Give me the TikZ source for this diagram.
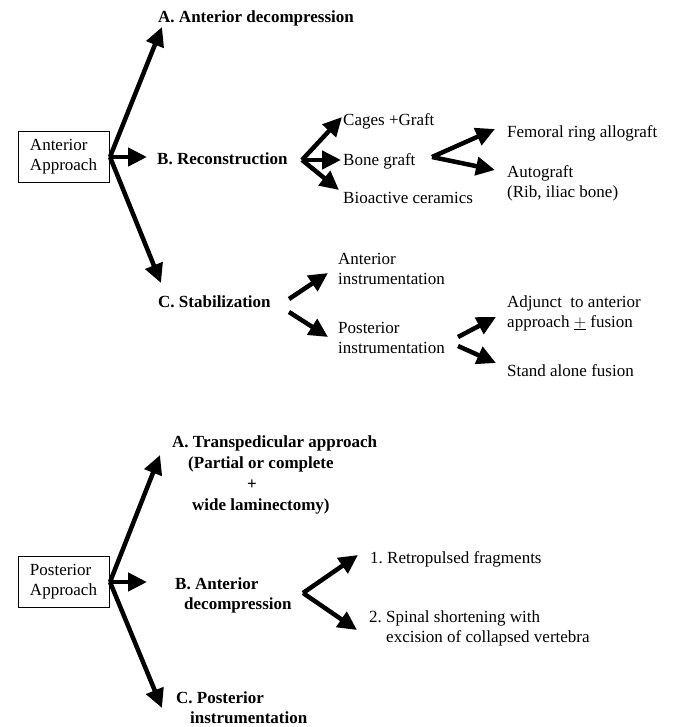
\documentclass[tikz,border=0pt]{standalone}
\usepackage{fontspec}
\setmainfont{Liberation Serif}
\usetikzlibrary{arrows.meta}
\begin{document}
\begin{tikzpicture}[x=1pt,y=-1pt,
  every node/.style={font=\fontsize{17}{20}\selectfont\frenchspacing, inner sep=0pt},
  lbl/.style={anchor=base west, align=left},
  blbl/.style={anchor=base west, align=left, font=\fontsize{17}{20}\selectfont\bfseries\frenchspacing},
  box/.style={draw, line width=0.8pt, minimum width=91pt, minimum height=51pt, align=left},
  arr/.style={line width=4.5pt, -{Triangle[length=19pt,width=18pt]}}]
\useasboundingbox (0,0) rectangle (672,727);

% ---------- Anterior approach ----------
\node[box] (antbox) at (63.5,156.5) {Anterior\\Approach};
\node[blbl] (antA) at (158,23) {A. Anterior decompression};
\node[blbl] (antB) at (157,165) {B. Reconstruction};
\node[blbl] (antC) at (158,307) {C. Stabilization};

\coordinate (o1) at (110,157);
\coordinate (tA) at (162,27);
\coordinate (tB) at (147,157);
\coordinate (tC) at (161,283);
\draw[arr] (o1) -- (tA);
\draw[arr] (o1) -- (tB);
\draw[arr] (o1) -- (tC);

\node[lbl] (cages) at (343,126) {Cages +Graft};
\node[lbl] (bone) at (343,166) {Bone graft};
\node[lbl] (bioact) at (343,204) {Bioactive ceramics};
\coordinate (o2) at (302,160);
\coordinate (t21) at (342,117);
\coordinate (t22) at (341,160);
\coordinate (t23) at (339,190);
\draw[arr] (o2) -- (t21);
\draw[arr] (o2) -- (t22);
\draw[arr] (o2) -- (t23);

\node[lbl] (femoral) at (507,138) {Femoral ring allograft};
\node[lbl] (auto) at (507,198) {Autograft\\(Rib, iliac bone)};
\coordinate (o3) at (432,157);
\coordinate (t31) at (495,129);
\coordinate (t32) at (495,170);
\draw[arr] (o3) -- (t31);
\draw[arr] (o3) -- (t32);

\node[lbl] (antinst) at (338,284) {Anterior\\instrumentation};
\node[lbl] (postinst) at (338,353) {Posterior\\instrumentation};
\coordinate (s1) at (289,299);
\coordinate (ts1) at (328,273);
\coordinate (s2) at (289,312);
\coordinate (ts2) at (328,337);
\draw[arr] (s1) -- (ts1);
\draw[arr] (s2) -- (ts2);

\node[lbl] (adjunct) at (507,327) {Adjunct\ \ to anterior\\approach $\underline{+}$ fusion};
\node[lbl] (stand) at (507,376) {Stand alone fusion};
\coordinate (p1) at (458,337);
\coordinate (tp1) at (496,317);
\coordinate (p2) at (458,346);
\coordinate (tp2) at (496,363);
\draw[arr] (p1) -- (tp1);
\draw[arr] (p2) -- (tp2);

% ---------- Posterior approach ----------
\node[box] (postbox) at (63.5,581.5) {Posterior\\Approach};
\node[blbl, font=\fontsize{17}{20.7}\selectfont\bfseries\frenchspacing] (postA) at (172,510)
  {A. Transpedicular approach\\\hspace*{16pt}(Partial or complete\\\hspace*{75pt}+\\\hspace*{20pt}wide laminectomy)};
\node[blbl] (postB) at (175,609) {B. Anterior\\\hspace*{9pt}decompression};
\node[blbl] (postC) at (176,723) {C. Posterior\\\hspace*{14pt}instrumentation};

\coordinate (o4) at (110,582);
\coordinate (tPA) at (160,455);
\coordinate (tPB) at (147,582);
\coordinate (tPC) at (162,708);
\draw[arr] (o4) -- (tPA);
\draw[arr] (o4) -- (tPB);
\draw[arr] (o4) -- (tPC);

\node[lbl] (retro) at (370,563) {1. Retropulsed fragments};
\node[lbl] (spinal) at (369,642) {2. Spinal shortening with\\\hspace*{17pt}excision of collapsed vertebra};
\coordinate (o5) at (303,593);
\coordinate (t51) at (358,555);
\coordinate (t52) at (357,630);
\draw[arr] (o5) -- (t51);
\draw[arr] (o5) -- (t52);
\end{tikzpicture}
\end{document}
